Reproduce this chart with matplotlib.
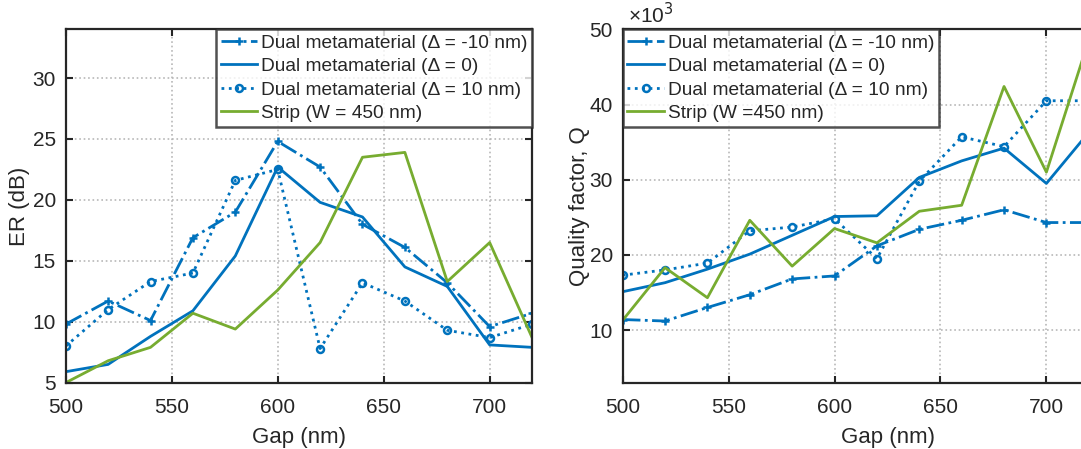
import numpy as np
import matplotlib
matplotlib.use("Agg")
import matplotlib.pyplot as plt

plt.rcParams['font.family'] = ['Liberation Sans', 'DejaVu Sans']

# Extinction ratio vs gap
gap_er = [500, 520, 540, 560, 580, 600, 620, 640, 660, 680, 700, 720]
er_m10 = [9.8, 11.7, 10.1, 16.9, 19.0, 24.8, 22.7, 18.0, 16.1, 13.2, 9.6, 10.7]
er_0 = [5.9, 6.5, 8.8, 10.9, 15.4, 22.7, 19.8, 18.6, 14.5, 12.9, 8.1, 7.9]
er_p10 = [8.0, 11.0, 13.3, 14.0, 21.6, 22.5, 7.8, 13.2, 11.7, 9.3, 8.7, 9.8]
er_strip = [5.0, 6.8, 7.9, 10.7, 9.4, 12.6, 16.5, 23.5, 23.9, 13.3, 16.5, 8.7]

# Quality factor vs gap (x1e3)
gap_q = [500, 520, 540, 560, 580, 600, 620, 640, 660, 680, 700, 750]
q_m10 = [11.4, 11.2, 13.0, 14.7, 16.8, 17.2, 21.2, 23.4, 24.6, 26.0, 24.3, 24.3]
q_0 = [15.1, 16.3, 18.1, 20.1, 22.6, 25.1, 25.2, 30.3, 32.5, 34.2, 29.5, 46.5]
q_p10 = [17.3, 18.0, 18.9, 23.2, 23.7, 24.8, 19.5, 29.8, 35.7, 34.4, 40.5, 40.5]
q_strip = [11.3, 18.3, 14.3, 24.6, 18.5, 23.5, 21.6, 25.8, 26.6, 42.4, 31.0, 75.0]

labels_er = ['Dual metamaterial (Δ = -10 nm)', 'Dual metamaterial (Δ = 0)',
             'Dual metamaterial (Δ = 10 nm)', 'Strip (W = 450 nm)']
labels_q = ['Dual metamaterial (Δ = -10 nm)', 'Dual metamaterial (Δ = 0)',
            'Dual metamaterial (Δ = 10 nm)', 'Strip (W =450 nm)']

blue = '#0072BD'
green = '#77AC30'
dark = '#262626'

fig = plt.figure(figsize=(10.81, 4.49), dpi=100)
ax1 = fig.add_axes([0.0608, 0.1477, 0.4314, 0.787])
ax2 = fig.add_axes([0.576, 0.1477, 0.490, 0.787])


def draw(ax, x, ys, labels, loc):
    ax.plot(x, ys[0], color=blue, lw=2, ls='-.', marker='+', ms=6, mew=1.8, label=labels[0])
    ax.plot(x, ys[1], color=blue, lw=2, ls='-', label=labels[1])
    ax.plot(x, ys[2], color=blue, lw=2, ls=':', marker='o', ms=5, mew=1.8,
            mfc='none', label=labels[2])
    ax.plot(x, ys[3], color=green, lw=2, ls='-', label=labels[3])
    ax.grid(True, ls=':', color='#b8b8b8', lw=1.2)
    ax.tick_params(direction='in', top=True, right=True, length=5, width=1.5,
                   labelsize=15, colors=dark)
    ax.tick_params(axis='x', pad=11)
    ax.tick_params(axis='y', pad=7)
    for s in ax.spines.values():
        s.set_linewidth(1.6)
        s.set_color(dark)
    ax.set_xlabel('Gap (nm)', fontsize=16, color=dark, labelpad=7)
    leg = ax.legend(loc=loc, fontsize=13.8, frameon=True, fancybox=False,
                    borderaxespad=0, handlelength=1.9, handletextpad=0.2,
                    labelspacing=0.32, borderpad=0.25)
    leg.get_frame().set_edgecolor(dark)
    leg.get_frame().set_linewidth(1.8)
    for t in leg.get_texts():
        t.set_color(dark)


draw(ax1, gap_er, [er_m10, er_0, er_p10, er_strip], labels_er, 'upper right')
ax1.set_xlim(500, 720)
ax1.set_ylim(5, 34)
ax1.set_xticks([500, 550, 600, 650, 700])
ax1.set_yticks([5, 10, 15, 20, 25, 30])
ax1.set_ylabel('ER (dB)', fontsize=16, color=dark, labelpad=2)

draw(ax2, gap_q, [q_m10, q_0, q_p10, q_strip], labels_q, 'upper left')
ax2.set_xlim(500, 750)
ax2.set_ylim(3, 50)
ax2.set_xticks([500, 550, 600, 650, 700])
ax2.set_yticks([10, 20, 30, 40, 50])
ax2.set_ylabel('Quality factor, Q', fontsize=16, color=dark, labelpad=0)
ax2.text(0.01, 1.005, '×10$^3$', transform=ax2.transAxes, fontsize=15,
         color=dark, va='bottom', ha='left')

fig.savefig('out.png', dpi=100)
